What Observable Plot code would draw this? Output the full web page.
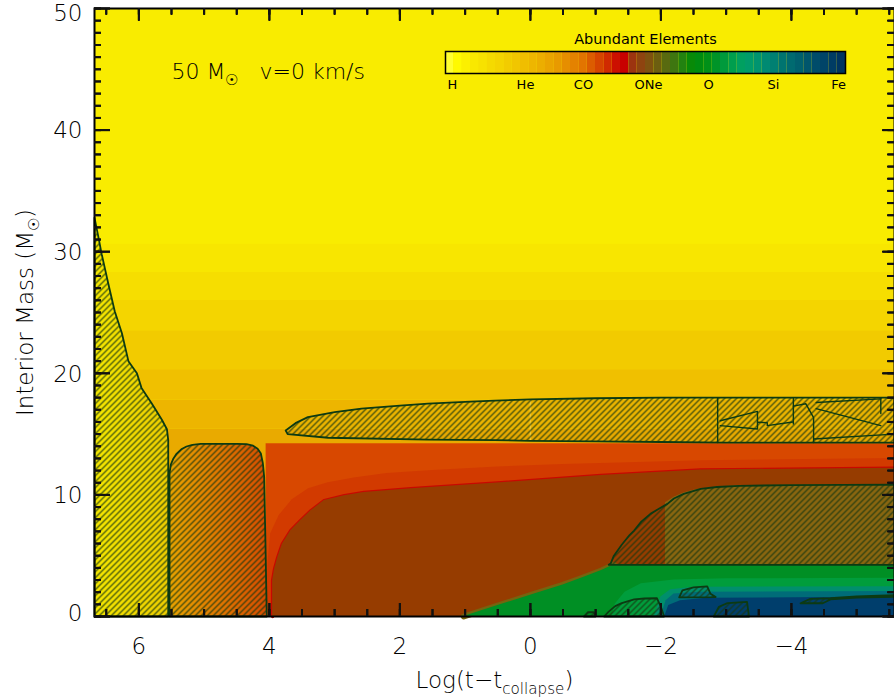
<!DOCTYPE html>
<html><head><meta charset="utf-8">
<script src="https://cdn.jsdelivr.net/npm/d3@7"></script>
<script src="https://cdn.jsdelivr.net/npm/@observablehq/plot@0.6"></script>
<style>
body{margin:0;background:#fff;}
#wrap{position:relative;width:894px;height:700px;overflow:hidden;}
#wrap svg{position:absolute;}
#cbar{left:405px;top:20px;}
</style></head><body><div id="wrap"></div>
<script>
// ---------- data (x = log(t - t_collapse), y = interior mass) ----------
const xDomain = [6.68, -5.58];
const yDomain = [0, 50];
const xMajor = [6, 4, 2, 0, -2, -4];
const yMajor = [0, 10, 20, 30, 40, 50];
const xMinor = d3.range(6.5, -5.6, -0.5);
const yMinor = d3.range(0, 51, 1);

const envTop = "#f9ec00";
const envBands = [
  {lo: 28.3, hi: 30.6, color: "#f8e600"},
  {lo: 26.0, hi: 28.3, color: "#f6de00"},
  {lo: 23.5, hi: 26.0, color: "#f4d500"},
  {lo: 20.3, hi: 23.5, color: "#f2cb00"},
  {lo: 17.8, hi: 20.3, color: "#f0c000"},
  {lo: 15.4, hi: 17.8, color: "#edb500"},
  {lo: 0,    hi: 15.4, color: "#e9aa00"}
];
const heLayer = [[4.05, 14.2], [-5.58, 14.2]];
const band2Top = [[4.05,0],[4.02,4.5],[3.98,6.8],[3.85,8.3],[3.65,9.6],[3.4,10.5],[3.1,11.0],[2.7,11.4],[2.2,11.75],[1.5,12.0],[0.5,12.3],[-0.5,12.5],[-1.5,12.65],[-2.6,12.8],[-5.58,13.0]];
const coEdge = [[3.95,0],[3.95,2.96],[3.92,3.9],[3.87,4.87],[3.8,5.97],[3.67,7.07],[3.52,7.89],[3.36,8.71],[3.16,9.53],[2.85,9.94],[2.55,10.2],[1.83,10.5],[0.45,11.0],[-1.08,11.6],[-2.61,12.05],[-5.58,12.2]];
const oEdge = [[1.02,0],[0.5,0.9],[-0.06,1.86],[-0.5,2.6],[-0.82,3.23],[-1.1,3.8],[-1.28,4.25],[-5.58,4.25]];
const lowerBands = [
  {color: "#009d3c", pts: [[-1.25,0],[-1.3,1.0],[-1.45,2.0],[-1.7,2.7],[-2.2,3.0],[-3,3.1],[-5.58,3.15]]},
  {color: "#008f6c", pts: [[-1.9,0],[-2.0,1.6],[-2.15,2.2],[-2.5,2.4],[-5.58,2.45]]},
  {color: "#006c78", pts: [[-2.0,0],[-2.08,1.3],[-2.2,1.85],[-2.6,2.0],[-5.58,2.05]]},
  {color: "#003e6c", pts: [[-2.06,0],[-2.12,0.9],[-2.3,1.3],[-2.7,1.5],[-5.58,1.6]]}
];
const oneZone = [[-2.07,4.25,9.35],[-2.2,4.25,9.8],[-2.35,4.25,10.15],[-2.55,4.25,10.45],[-2.86,4.25,10.65],[-3.2,4.25,10.75],[-4,4.25,10.8],[-5.58,4.25,10.85]];

// convective zones (hatched)
const hCore = [[6.68,0],[6.68,32.8],[6.62,31.2],[6.57,29.8],[6.47,27.4],[6.37,25.1],[6.26,23.3],[6.16,21.0],[6.03,20.0],[5.96,18.8],[5.8,17.5],[5.65,16.2],[5.57,15.4],[5.55,14.5],[5.55,0]];
const heCore = [[5.53,0],[5.53,11.8],[5.51,12.5],[5.47,13.0],[5.42,13.4],[5.35,13.75],[5.27,13.98],[5.18,14.12],[5.05,14.2],[4.5,14.2],[4.35,14.17],[4.25,14.05],[4.18,13.8],[4.13,13.4],[4.1,12.6],[4.08,11.5],[4.06,6],[4.04,0]];
const hShell = [[3.75,15.3],[3.6,15.9],[3.41,16.4],[3.0,16.8],[2.59,17.1],[2.0,17.35],[1.57,17.5],[1.0,17.65],[0.55,17.75],[0,17.85],[-1.0,17.95],[-2.0,18.0],[-3,18.0],[-4,18.0],[-5.58,18.0],[-5.58,14.3],[-4.3,14.3],[-3,14.3],[-2,14.35],[-1,14.4],[0,14.45],[0.55,14.5],[1.57,14.55],[3.1,14.7],[3.72,15.0]];
const cCore = [[-1.2,4.25],[-1.23,4.35],[-1.28,5.0],[-1.4,5.9],[-1.52,6.7],[-1.59,7.07],[-1.7,7.8],[-1.84,8.44],[-1.95,8.8],[-2.1,9.26],[-2.2,9.7],[-2.35,10.08],[-2.61,10.5],[-2.86,10.65],[-3.2,10.75],[-4,10.8],[-5.58,10.85],[-5.58,4.25]];
const smallZones = [
  [[-0.82,0],[-0.88,0.35],[-0.97,0.35],[-1.0,0]],
  [[-1.13,0],[-1.2,0.4],[-1.3,0.85],[-1.4,1.1],[-1.59,1.4],[-1.75,1.48],[-1.94,1.5],[-2.0,0.8],[-2.05,0]],
  [[-2.28,1.58],[-2.33,2.14],[-2.5,2.4],[-2.71,2.47],[-2.76,1.87],[-2.84,1.6]],
  [[-2.81,0],[-2.89,0.8],[-3.02,1.1],[-3.32,1.2],[-3.35,0]],
  [[-4.14,1.09],[-4.29,1.45],[-4.6,1.5],[-5.0,1.65],[-5.58,1.75],[-5.58,1.62],[-5.0,1.55],[-4.6,1.4],[-4.48,1.09]]
];
const shellLines = [
  [[-2.87,18.0],[-2.87,14.3]],
  [[-2.91,16.1],[-3.48,16.87],[-3.48,15.42],[-2.91,15.7]],
  [[-3.48,15.97],[-3.63,15.94],[-3.63,15.7],[-4.02,16.0]],
  [[-4.03,18.0],[-4.03,15.83]],
  [[-4.03,17.3],[-4.22,17.5],[-4.34,16.35],[-4.34,14.3]],
  [[-4.38,17.6],[-5.37,17.9]],
  [[-4.38,17.1],[-5.37,15.7]],
  [[-5.37,18.0],[-5.37,16.7]],
  [[-4.34,14.6],[-5.58,15.0]]
];
const artifactLine = [[0,14.5],[0,17.85]];

// legend (colour bar)
const cbarColors = ["#ffff30","#fffa00","#fcf000","#f9e800","#f7e200","#f5da00","#f4d400","#f2cc00","#f1c600","#f0be00","#eeb600","#ecae00","#eaa400","#e89a00","#e68e00","#e48200","#e27400","#dc5c00","#d64400","#d02a00","#cc1000","#c80000","#9c3410","#8e4410","#7e5210","#6c5e10","#586a10","#3e7610","#228210","#088a08","#008c10","#009018","#009428","#009a3c","#009e4e","#00a060","#009c6a","#009470","#008a72","#008072","#007470","#006a70","#00606e","#00566c","#004c6a","#004468","#003c64","#003460"];
const cbarLabels = ["H","He","CO","ONe","O","Si","Fe"];
const cbarLabelPos = [0.0175, 0.2, 0.345, 0.5075, 0.6575, 0.82, 0.9825];

// ---------- layout ----------
const W = 894, H = 700, ML = 94, MR = 0, MT = 8, MB = 84;
const FW = W - ML - MR, FH = H - MT - MB;

// ---------- helpers ----------
const gx = d => d[0], gy = d => d[1];
const fmt = d => d < 0 ? "\u2212" + (-d) : String(d);
const toRows = (arr) => arr.flatMap((pts, id) => pts.map(p => ({x: p[0], y: p[1], id})));
const edge = "#0c3a12";
const FONT = "'DejaVu Sans', sans-serif";
const tk = (data, anchor, len) => {
  const o = {stroke: "#111111", strokeWidth: 2};
  if (anchor === "bottom") return Plot.ruleX(data, {x: d => d, insetTop: FH - len, ...o});
  if (anchor === "top") return Plot.ruleX(data, {x: d => d, insetBottom: FH - len, ...o});
  if (anchor === "left") return Plot.ruleY(data, {y: d => d, insetRight: FW - len, ...o});
  return Plot.ruleY(data, {y: d => d, insetLeft: FW - len, ...o});
};
const ax = (data, anchor, len) => {
  const o = {anchor, tickSize: -len, fill: "none", stroke: "#111111", strokeWidth: 2, label: null};
  return anchor === "bottom" || anchor === "top" ? Plot.axisX(data, o) : Plot.axisY(data, o);
};
const yLab = (vals, dy) => Plot.text(vals, {y: d => d, text: fmt, frameAnchor: "left", textAnchor: "end", lineAnchor: "middle", dx: -12, dy, fontSize: 23});
const base = {
  width: W, height: H,
  marginLeft: ML, marginRight: MR, marginTop: MT, marginBottom: MB,
  x: {domain: xDomain, axis: null},
  y: {domain: yDomain, axis: null}
};

const main = Plot.plot({
  ...base,
  color: {type: "identity"},
  style: {fontFamily: FONT, fontWeight: 200, fontSize: "23px", color: "black", background: "white", overflow: "visible"},
  marks: [
    Plot.frame({fill: envTop, stroke: null}),
    Plot.rect(envBands, {y1: "lo", y2: "hi", fill: "color"}),
    Plot.areaY(heLayer, {x: gx, y: gy, fill: "#d84800"}),
    Plot.areaY(band2Top, {x: gx, y: gy, fill: "#d23a00"}),
    Plot.line(coEdge, {x: gx, y: gy, stroke: "#c80800", strokeWidth: 3.5}),
    Plot.areaY(coEdge, {x: gx, y: gy, fill: "#963c00"}),
    Plot.line(oEdge.slice(0, 7), {x: gx, y: gy, stroke: "#75640f", strokeWidth: 6}),
    Plot.areaY(oEdge, {x: gx, y: gy, fill: "#008f24"}),
    ...lowerBands.map(b => Plot.areaY(b.pts, {x: gx, y: gy, fill: b.color})),
    Plot.areaY(oneZone, {x: gx, y1: d => d[1], y2: d => d[2], fill: "#8a6610"}),
    Plot.line(hCore, {x: gx, y: gy, fill: "url(#gH)", stroke: "none", curve: "linear-closed"}),
    Plot.line(heCore, {x: gx, y: gy, fill: "url(#gHe)", stroke: "none", curve: "linear-closed"}),
    Plot.line(artifactLine, {x: gx, y: gy, stroke: "#f8cc30", strokeWidth: 1.5}),
    Plot.line(toRows([hCore, heCore, hShell, cCore, ...smallZones]), {x: "x", y: "y", z: "id", fill: "url(#hatch)", stroke: edge, strokeWidth: 1.8, strokeLinejoin: "round", curve: "linear-closed"}),
    Plot.line(toRows(shellLines), {x: "x", y: "y", z: "id", stroke: edge, strokeWidth: 1.4}),
    // tick labels
    Plot.axisX(xMajor, {anchor: "bottom", tickSize: 0, tickPadding: 21, tickFormat: fmt, fontSize: 23, label: null}),
    yLab([10, 20, 30, 40], 1), yLab([50], 5), yLab([0], -3),
    // titles
    Plot.text(["Log(t\u2212t_{collapse})"], {frameAnchor: "bottom", lineAnchor: "middle", dy: 64, text: d => d, fontSize: 23}),
    Plot.text(["Interior Mass (M_{\u2609})"], {frameAnchor: "left", textAnchor: "middle", lineAnchor: "middle", dx: -69, rotate: -90, text: d => d, fontSize: 23}),
    Plot.text(["50 M_{\u2609}\u00a0\u00a0 v=0 km/s"], {frameAnchor: "top-left", lineAnchor: "middle", dx: 77, dy: 63, textAnchor: "start", text: d => d, fontSize: 22})
  ]
});

main.insertAdjacentHTML("afterbegin", `<defs>
<pattern id="hatch" patternUnits="userSpaceOnUse" width="6" height="6">
<path d="M-1,1 L1,-1 M0,6 L6,0 M5,7 L7,5" stroke="#17360f" stroke-width="1.1" fill="none"></path>
</pattern>
<linearGradient id="gH" x1="0" x2="1" y1="0" y2="0"><stop offset="0" stop-color="#f7e800"></stop><stop offset="1" stop-color="#efcf00"></stop></linearGradient>
<linearGradient id="gHe" x1="0" x2="1" y1="0" y2="0"><stop offset="0" stop-color="#eaa400"></stop><stop offset="0.5" stop-color="#e27800"></stop><stop offset="1" stop-color="#d84c00"></stop></linearGradient>
</defs>`);

function richify(svg) {
  const ns = "http://www.w3.org/2000/svg";
  svg.querySelectorAll("text").forEach(t => {
    const s = t.textContent;
    if (!s.includes("_{")) return;
    while (t.firstChild) t.removeChild(t.firstChild);
    const parts = s.split(/(_\{[^}]*\})/).filter(p => p.length);
    let shift = 0;
    parts.forEach(p => {
      const ts = document.createElementNS(ns, "tspan");
      if (p.startsWith("_{")) {
        ts.textContent = p.slice(2, -1);
        ts.setAttribute("font-size", "0.66em");
        ts.setAttribute("dy", "6");
        shift = 6;
      } else {
        ts.textContent = p;
        if (shift) { ts.setAttribute("dy", String(-shift)); shift = 0; }
      }
      t.appendChild(ts);
    });
  });
}
richify(main);

// frame and inward ticks, drawn as an overlay with the same scales
const axes = Plot.plot({
  ...base,
  marks: [
    Plot.frame({stroke: "#000000", strokeWidth: 2}),
    tk(xMinor, "bottom", 7), tk(xMajor, "bottom", 13),
    tk(xMinor, "top", 6), tk(xMajor, "top", 12),
    tk(yMinor, "left", 7), tk(yMajor, "left", 16),
    tk(yMinor, "right", 7), tk(yMajor, "right", 12),
    ax(xMinor, "bottom", 7), ax(xMajor, "bottom", 13),
    ax(xMinor, "top", 6), ax(xMajor, "top", 12),
    ax(yMinor, "left", 7), ax(yMajor, "left", 16),
    ax(yMinor, "right", 7), ax(yMajor, "right", 12)
  ]
});
axes.style.background = "transparent";

const cbar = Plot.plot({
  width: 480, height: 80,
  marginLeft: 40, marginRight: 40, marginTop: 31, marginBottom: 27,
  x: {domain: [0, cbarColors.length], axis: null},
  y: {axis: null},
  color: {type: "identity"},
  style: {fontFamily: FONT, fontSize: "13px", color: "black", background: "transparent", overflow: "visible"},
  marks: [
    Plot.barX(cbarColors, {x1: (d, i) => i, x2: (d, i) => i + 1, fill: d => d}),
    Plot.frame({stroke: "black", strokeWidth: 1.5}),
    Plot.text(cbarLabels, {x: (d, i) => cbarLabelPos[i] * cbarColors.length, frameAnchor: "bottom", lineAnchor: "middle", dy: 11, text: d => d, fontSize: 13}),
    Plot.text(["Abundant Elements"], {frameAnchor: "top", lineAnchor: "middle", dy: -12, text: d => d, fontSize: 14.5})
  ]
});
cbar.id = "cbar";

const wrap = document.getElementById("wrap");
main.style.left = "0px"; main.style.top = "0px";
axes.style.left = "0px"; axes.style.top = "0px";
wrap.appendChild(main);
wrap.appendChild(axes);
wrap.appendChild(cbar);
</script></body></html>
